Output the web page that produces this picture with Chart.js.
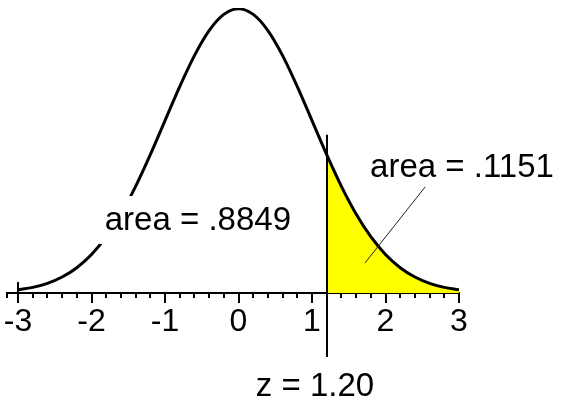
<!DOCTYPE html>
<html>
<head>
<meta charset="utf-8">
<script src="https://cdn.jsdelivr.net/npm/chart.js@4"></script>
<style>
html,body{margin:0;padding:0;background:#fff;}
canvas{display:block;}
</style>
</head>
<body>
<canvas id="c" width="562" height="404"></canvas>
<script>
// ---- data ----
const zValues = [-3.0,-2.8,-2.6,-2.4,-2.2,-2.0,-1.8,-1.6,-1.4,-1.2,-1.0,-0.8,-0.6,-0.4,-0.2,0.0,
                 0.2,0.4,0.6,0.8,1.0,1.2,1.4,1.6,1.8,2.0,2.2,2.4,2.6,2.8,3.0];
const densities = [0.0044,0.0079,0.0136,0.0224,0.0355,0.0540,0.0790,0.1109,0.1497,0.1942,0.2420,0.2897,0.3332,0.3683,0.3910,0.3989,
                   0.3910,0.3683,0.3332,0.2897,0.2420,0.1942,0.1497,0.1109,0.0790,0.0540,0.0355,0.0224,0.0136,0.0079,0.0044];
const tailZ = [1.2,1.4,1.6,1.8,2.0,2.2,2.4,2.6,2.8,3.0];
const tailDensities = [0.1942,0.1497,0.1109,0.0790,0.0540,0.0355,0.0224,0.0136,0.0079,0.0044];
const tickValues = [-3,-2,-1,0,1,2,3];
const minorStep = 0.2;
const cutZ = 1.2;
const leftAreaLabel = 'area = .8849';
const rightAreaLabel = 'area = .1151';
const cutLabel = 'z = 1.20';

const FONT = '"Liberation Sans", Arial, sans-serif';

const annot = {
  id: 'annot',
  afterDraw(chart) {
    const ctx = chart.ctx;
    const xs = chart.scales.x, ys = chart.scales.y;
    const px = v => xs.getPixelForValue(v);
    const py = v => ys.getPixelForValue(v);
    const axisY = Math.round(py(0));
    ctx.save();
    ctx.strokeStyle = '#000';
    ctx.lineWidth = 2;
    // small upward tick at the first label
    const fx = Math.round(px(tickValues[0]));
    ctx.beginPath(); ctx.moveTo(fx, axisY - 11); ctx.lineTo(fx, axisY); ctx.stroke();
    // cut line at z
    const cx = Math.round(px(cutZ));
    ctx.beginPath(); ctx.moveTo(cx, py(tailDensities[0]) - 20); ctx.lineTo(cx, axisY + 64); ctx.stroke();
    // left label with white box
    ctx.font = '33px ' + FONT;
    ctx.textBaseline = 'alphabetic';
    ctx.textAlign = 'left';
    const lx = px(-1.82), ly = py(0.0885);
    const lw = ctx.measureText(leftAreaLabel).width;
    ctx.fillStyle = '#fff';
    ctx.fillRect(lx - 8, ly - 34, lw + 14, 48);
    ctx.fillStyle = '#000';
    ctx.fillText(leftAreaLabel, lx, ly);
    // right label
    ctx.fillText(rightAreaLabel, px(1.79), py(0.163));
    // leader line
    ctx.strokeStyle = '#222';
    ctx.lineWidth = 1;
    ctx.beginPath(); ctx.moveTo(px(2.54), py(0.149)); ctx.lineTo(px(1.72), py(0.042)); ctx.stroke();
    // z label
    ctx.textAlign = 'center';
    ctx.fillText(cutLabel, cx - 12, axisY + 103);
    ctx.restore();
  }
};

new Chart(document.getElementById('c'), {
  type: 'line',
  data: {
    datasets: [
      {
        data: zValues.map((z, i) => ({x: z, y: densities[i]})),
        borderColor: '#000',
        borderWidth: 3,
        pointRadius: 0,
        fill: false,
        cubicInterpolationMode: 'monotone'
      },
      {
        data: tailZ.map((z, i) => ({x: z, y: tailDensities[i]})),
        borderWidth: 0,
        borderColor: 'rgba(0,0,0,0)',
        backgroundColor: '#ffff00',
        pointRadius: 0,
        fill: 'origin',
        cubicInterpolationMode: 'monotone'
      }
    ]
  },
  options: {
    responsive: false,
    animation: false,
    layout: {padding: {left: 7, right: 103, top: 8, bottom: 0}},
    plugins: {legend: {display: false}, tooltip: {enabled: false}},
    scales: {
      y: {display: false, min: 0, max: 0.4},
      x: {
        type: 'linear', min: -3.15, max: 3, position: 'bottom', weight: 1, z: 1,
        afterBuildTicks: s => { s.ticks = tickValues.map(v => ({value: v})); },
        afterFit: s => { s.height = 111; },
        ticks: {autoSkip: false, maxRotation: 0, padding: 0, color: '#000',
                font: {family: FONT, size: 32}, callback: v => String(v)},
        grid: {drawOnChartArea: false, drawTicks: true, tickLength: 10, lineWidth: 2, color: '#000'},
        border: {display: true, width: 2, color: '#000'}
      },
      xMinor: {
        type: 'linear', min: -3.15, max: 3, position: 'bottom', weight: 0, z: 1,
        afterFit: s => { s.height = 0; },
        ticks: {display: false, stepSize: minorStep, autoSkip: false},
        grid: {drawOnChartArea: false, drawTicks: true, tickLength: 5, lineWidth: 2, color: '#000'},
        border: {display: false}
      }
    }
  },
  plugins: [annot]
});
</script>
</body>
</html>
